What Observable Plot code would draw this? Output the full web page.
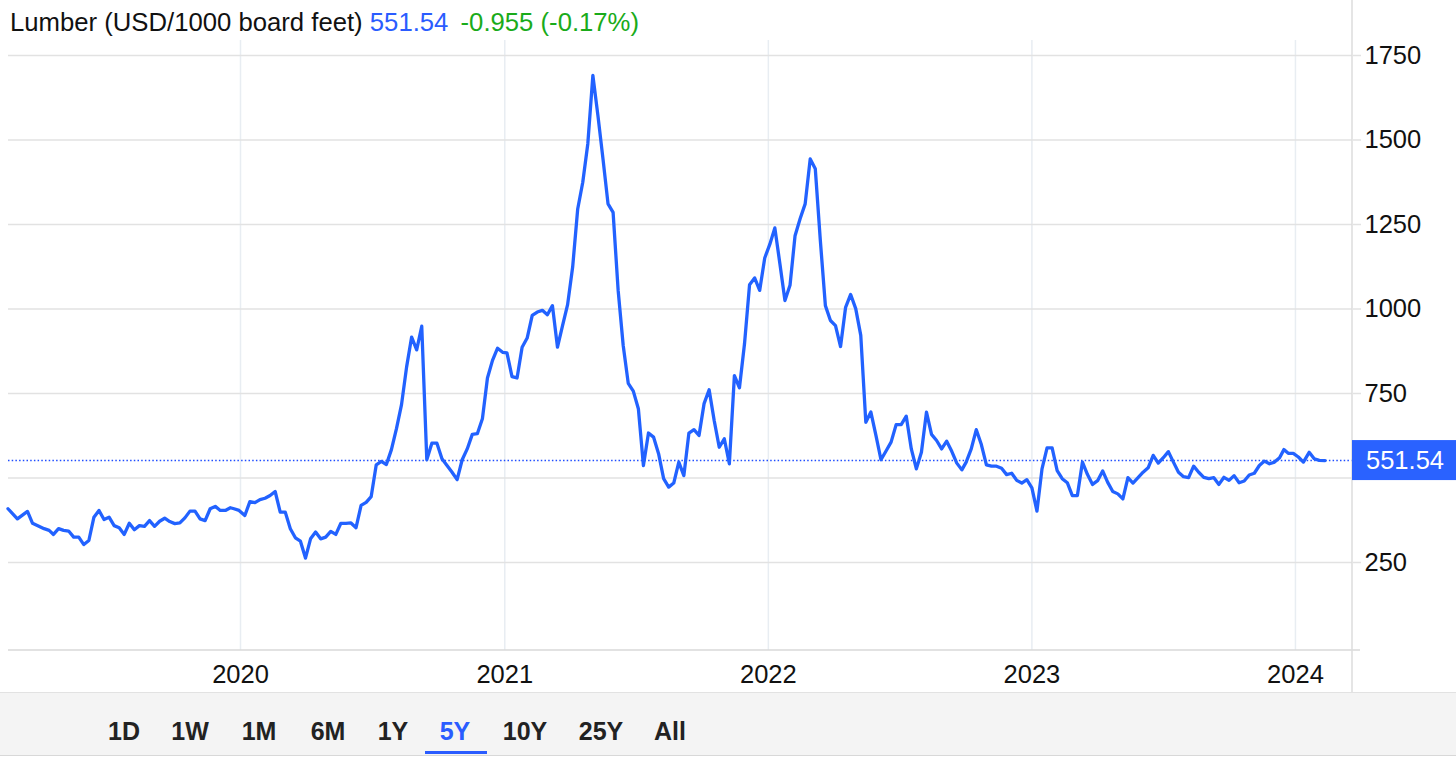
<!DOCTYPE html>
<html><head><meta charset="utf-8">
<script src="https://cdn.jsdelivr.net/npm/d3@7"></script>
<script src="https://cdn.jsdelivr.net/npm/@observablehq/plot@0.6"></script>
<style>
body{margin:0;background:#fff;font-family:"Liberation Sans",Arial,sans-serif;}
#wrap{position:relative;width:1456px;height:765px;overflow:hidden;background:#fff;}
#title{position:absolute;left:10px;top:10px;font-size:25.7px;line-height:25px;color:#111;white-space:nowrap;}
#title .px{color:#2a5cff;}
#title .chg{color:#1aab1a;margin-left:5px;}
#chart{position:absolute;left:0;top:40px;}
#bar{position:absolute;left:0;top:692px;width:1456px;height:62px;background:#f4f4f4;border-top:1px solid #e2e2e2;border-bottom:1px solid #d8d8d8;}
.btn{position:absolute;top:26px;transform:translateX(-50%);font-weight:bold;font-size:25px;line-height:25px;color:#222;}
.btn.on{color:#2a5cff;}
#uline{position:absolute;left:425px;top:58px;width:62px;height:3px;background:#2a5cff;}
</style>
</head><body>
<div id="wrap">
  <div id="chart"></div>
  <div id="title">Lumber (USD/1000 board feet) <span class="px" id="lastPx"></span> <span class="chg" id="chg"></span></div>
  <div id="bar"></div>
</div>
<script>
// ---- data (weekly closes) ----
const dates = [
"2019-02-13","2019-02-26","2019-03-12","2019-03-19","2019-04-04","2019-04-11","2019-04-17","2019-04-24","2019-05-01","2019-05-08","2019-05-15","2019-05-22","2019-05-29","2019-06-05","2019-06-12","2019-06-19","2019-06-26","2019-07-03","2019-07-10","2019-07-17","2019-07-24","2019-07-31","2019-08-07","2019-08-14","2019-08-21","2019-08-28","2019-09-04","2019-09-11","2019-09-18","2019-09-25","2019-10-02","2019-10-09","2019-10-16","2019-10-23","2019-10-30","2019-11-06","2019-11-13","2019-11-20","2019-11-27","2019-12-04","2019-12-11","2019-12-18","2019-12-23","2019-12-30",
"2020-01-07","2020-01-14","2020-01-21","2020-01-28","2020-02-04","2020-02-11","2020-02-18","2020-02-25","2020-03-03","2020-03-10","2020-03-17","2020-03-24","2020-03-31","2020-04-07","2020-04-14","2020-04-21","2020-04-28","2020-05-05","2020-05-12","2020-05-19","2020-05-26","2020-06-02","2020-06-09","2020-06-16","2020-06-23","2020-06-30","2020-07-07","2020-07-14","2020-07-21","2020-07-28","2020-08-04","2020-08-11","2020-08-18","2020-08-25","2020-09-01","2020-09-08","2020-09-15","2020-09-22","2020-09-29","2020-10-06","2020-10-13","2020-10-20","2020-10-27","2020-11-03","2020-11-10","2020-11-17","2020-11-24","2020-12-01","2020-12-08","2020-12-15","2020-12-22","2020-12-29",
"2021-01-04","2021-01-11","2021-01-18","2021-01-25","2021-02-01","2021-02-08","2021-02-15","2021-02-22","2021-03-01","2021-03-08","2021-03-15","2021-03-22","2021-03-29","2021-04-05","2021-04-12","2021-04-19","2021-04-26","2021-05-03","2021-05-10","2021-05-17","2021-05-24","2021-05-31","2021-06-07","2021-06-14","2021-06-21","2021-06-28","2021-07-05","2021-07-12","2021-07-19","2021-07-26","2021-08-02","2021-08-09","2021-08-16","2021-08-23","2021-08-30","2021-09-06","2021-09-13","2021-09-20","2021-09-27","2021-10-04","2021-10-11","2021-10-18","2021-10-25","2021-11-01","2021-11-08","2021-11-15","2021-11-22","2021-11-29","2021-12-06","2021-12-13","2021-12-20","2021-12-27",
"2022-01-03","2022-01-10","2022-01-17","2022-01-24","2022-01-31","2022-02-07","2022-02-14","2022-02-21","2022-02-28","2022-03-07","2022-03-14","2022-03-21","2022-03-28","2022-04-04","2022-04-11","2022-04-18","2022-04-25","2022-05-02","2022-05-09","2022-05-16","2022-05-23","2022-05-30","2022-06-06","2022-06-13","2022-06-20","2022-06-27","2022-07-04","2022-07-11","2022-07-18","2022-07-25","2022-08-01","2022-08-08","2022-08-15","2022-08-22","2022-08-29","2022-09-05","2022-09-12","2022-09-19","2022-09-26","2022-10-02","2022-10-09","2022-10-16","2022-10-23","2022-10-30","2022-11-06","2022-11-13","2022-11-20","2022-11-27","2022-12-04","2022-12-11","2022-12-18","2022-12-25",
"2023-01-01","2023-01-08","2023-01-15","2023-01-22","2023-01-29","2023-02-05","2023-02-12","2023-02-19","2023-02-26","2023-03-05","2023-03-12","2023-03-19","2023-03-26","2023-04-02","2023-04-09","2023-04-16","2023-04-23","2023-04-30","2023-05-07","2023-05-14","2023-05-21","2023-05-28","2023-06-04","2023-06-11","2023-06-18","2023-06-25","2023-07-02","2023-07-09","2023-07-16","2023-07-23","2023-07-30","2023-08-06","2023-08-13","2023-08-20","2023-08-27","2023-09-03","2023-09-10","2023-09-17","2023-09-24","2023-10-01","2023-10-08","2023-10-15","2023-10-22","2023-10-29","2023-11-05","2023-11-12","2023-11-19","2023-11-26","2023-12-03","2023-12-10","2023-12-16","2023-12-22","2023-12-29",
"2024-01-05","2024-01-12","2024-01-20","2024-01-27","2024-02-03","2024-02-11"
];
const prices = [
409,379,401,366,350,345,333,350,345,343,325,325,303,315,384,404,377,384,359,353,333,366,347,359,357,374,357,372,381,371,365,367,382,402,402,379,374,409,416,404,404,412,409,404,
389,430,427,436,440,448,460,399,399,350,323,313,263,320,340,320,325,342,333,366,366,367,353,419,428,445,539,549,540,584,646,717,828,917,879,949,554,603,603,557,537,517,495,554,586,629,631,675,796,848,884,872,
870,800,796,887,914,981,991,996,983,1010,887,951,1013,1124,1296,1375,1489,1691,1572,1444,1311,1286,1055,892,780,757,705,537,633,621,572,498,473,485,547,507,633,643,626,720,761,670,591,616,542,803,767,897,1072,1092,1055,1151,
1191,1240,1134,1025,1070,1217,1267,1311,1444,1415,1203,1010,966,951,889,1005,1043,1001,922,665,695,626,554,580,606,658,658,683,586,527,576,695,629,611,586,609,579,544,524,547,586,643,599,539,535,535,529,510,514,493,485,495,
471,402,527,589,589,522,498,486,448,448,547,510,481,492,521,487,460,453,438,501,485,501,517,530,567,544,560,578,547,517,504,501,535,517,502,498,501,481,502,493,507,486,491,509,514,537,550,542,547,560,584,573,573,
562,547,576,557,552,551.54
];
const lastPrice = 551.54;
const change = -0.955;
const changePct = -0.17;
const yTicks = [250, 500, 750, 1000, 1250, 1500, 1750];
const yearTicks = ["2020-01-01","2021-01-01","2022-01-01","2023-01-01","2024-01-01"];
const ranges = ["1D","1W","1M","6M","1Y","5Y","10Y","25Y","All"];
const activeRange = "5Y";

// ---- build ----
const data = dates.map((d, i) => ({date: new Date(d), price: prices[i]}));
const years = yearTicks.map(d => new Date(d));
const W = 1456, H = 652, mL = 8, mR = 104, mT = 0, mB = 42;
const xDomain = [new Date(Date.UTC(2019, 1, 13, 16, 48)), new Date(Date.UTC(2024, 2, 20))];
const yDomain = [-10.4, 1794.4];

const chart = Plot.plot({
  width: W, height: H,
  marginLeft: mL, marginRight: mR, marginTop: mT, marginBottom: mB,
  style: {fontFamily: '"Liberation Sans", Arial, sans-serif', fontSize: "25px", background: "#fff", overflow: "visible"},
  x: {type: "utc", domain: xDomain},
  y: {domain: yDomain},
  marks: [
    Plot.gridX(years, {stroke: "#e8edf2", strokeOpacity: 1, strokeWidth: 1.5}),
    Plot.gridY(yTicks, {stroke: "#e2e2e2", strokeOpacity: 1, strokeWidth: 1.5}),
    Plot.axisY(yTicks, {anchor: "right", tickSize: 8, tickPadding: 4, stroke: "#e2e2e2", strokeOpacity: 1, strokeWidth: 1.5, fill: "#111", fontSize: 25.5, label: null, tickFormat: d => d === 500 ? "" : String(d)}),
    Plot.axisX(years, {anchor: "bottom", tickSize: 0, tickPadding: 14, fill: "#111", fontSize: 25.5, label: null, tickFormat: d3.utcFormat("%Y")}),
    Plot.ruleY([lastPrice], {stroke: "#1f4dff", strokeWidth: 1.5, strokeDasharray: "1.5,2.2"}),
    Plot.line(data, {x: "date", y: "price", stroke: "#2262ff", strokeWidth: 3.3, strokeLinejoin: "round", strokeLinecap: "round"})
  ]
});
document.getElementById("chart").appendChild(chart);

// frame lines (bottom and right axis line)
const svg = d3.select(chart);
const xr = W - mR, yb = H - mB;
svg.append("line").attr("x1", mL).attr("x2", xr + 8).attr("y1", yb).attr("y2", yb)
  .attr("stroke", "#d8d8d8").attr("stroke-width", 1.5);
svg.append("line").attr("x1", xr).attr("x2", xr).attr("y1", -40).attr("y2", H)
  .attr("stroke", "#dcdcdc").attr("stroke-width", 1.5);

// price tag on the right axis, placed with the library's y scale
const ty = chart.scale("y").apply(lastPrice);
const tag = svg.append("g");
tag.append("rect").attr("x", xr).attr("y", ty - 20).attr("width", W - xr).attr("height", 40).attr("fill", "#2a62ff");
tag.append("text").attr("x", xr + 14).attr("y", ty).attr("dy", "0.35em").attr("text-anchor", "start")
  .attr("fill", "#fff").attr("font-size", 25.5).text(lastPrice.toFixed(2));

// title values
document.getElementById("lastPx").textContent = lastPrice.toFixed(2);
document.getElementById("chg").textContent = `${change.toFixed(3)} (${changePct.toFixed(2)}%)`;

// range buttons
const centers = [124, 190, 259, 328, 393, 455, 525, 601, 670];
const bar = document.getElementById("bar");
ranges.forEach((r, i) => {
  const s = document.createElement("span");
  s.className = "btn" + (r === activeRange ? " on" : "");
  s.style.left = centers[i] + "px";
  s.textContent = r;
  bar.appendChild(s);
});
const u = document.createElement("div"); u.id = "uline"; bar.appendChild(u);
</script>
</body></html>
